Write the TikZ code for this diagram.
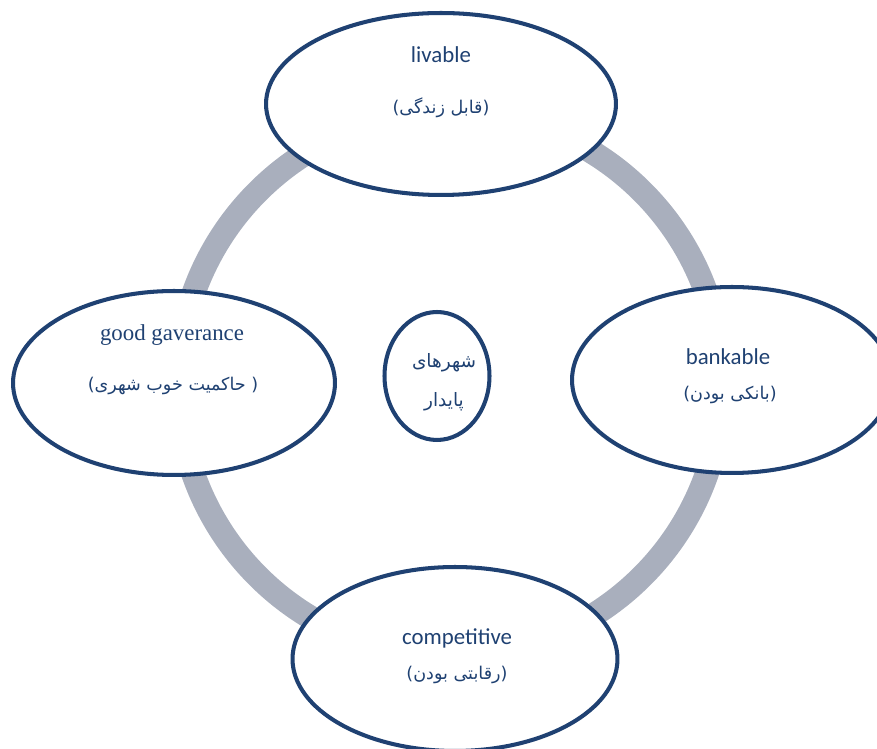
\documentclass[tikz,border=0pt]{standalone}
\usepackage{fontspec}
\setmainfont{Carlito}
\newfontfamily\serfont{Liberation Serif}
\newfontfamily\farsi[Script=Arabic]{DejaVu Sans}
\TeXXeTstate=1
\usetikzlibrary{shapes.geometric}
\definecolor{ringgray}{HTML}{A9AFBD}
\definecolor{navy}{HTML}{1F4172}
\tikzset{
  goal/.style={ellipse, draw=navy, line width=2.3pt, fill=white, inner sep=0pt},
  entxt/.style={text=navy, font=\fontsize{13}{15}\selectfont},
  fatxt/.style={text=navy, font=\farsi\fontsize{10}{12}\selectfont},
}

\begin{document}
\begin{tikzpicture}[x=0.02cm, y=-0.02cm]
	\useasboundingbox (0,0) rectangle (877,749);
	\coordinate (hub) at (450,384);
	\draw[ringgray, line width=13.6pt] (hub) circle[radius=5.44cm];
	% outer goals
	\node[goal, minimum width=7cm, minimum height=3.64cm] (livable) at (441,104) {};
	\node[goal, minimum width=6.44cm, minimum height=3.68cm] (governance) at (174,383) {};
	\node[goal, minimum width=6.4cm, minimum height=3.72cm] (bankable) at (732,380) {};
	\node[goal, minimum width=6.5cm, minimum height=3.68cm] (competitive) at (455,659) {};
	% centre
	\node[goal, minimum width=2.1cm, minimum height=2.56cm] (city) at (437,376) {};
	% labels
	\node[entxt] (livtxt) at (441,55) {livable};
	\node[fatxt] (livfa) at (441,108) {\beginR(قابل زندگی)\endR};
	\node[entxt, font=\serfont\fontsize{13}{15}\selectfont] (govtxt) at (172,335) {good gaverance};
	\node[fatxt] (govfa) at (173,386) {\beginR( حاکمیت خوب شهری)\endR};
	\node[entxt] (banktxt) at (728,357) {bankable};
	\node[fatxt] (bankfa) at (730,395) {\beginR(بانکی بودن)\endR};
	\node[entxt] (comptxt) at (457,638) {competitive};
	\node[fatxt] (compfa) at (457,675) {\beginR(رقابتی بودن)\endR};
	\node[fatxt, align=center, font=\farsi\fontsize{10.5}{22}\selectfont] (citytxt) at (444,382) {\beginR شهرهای\endR\\\beginR پایدار\endR};
\end{tikzpicture}
\end{document}
